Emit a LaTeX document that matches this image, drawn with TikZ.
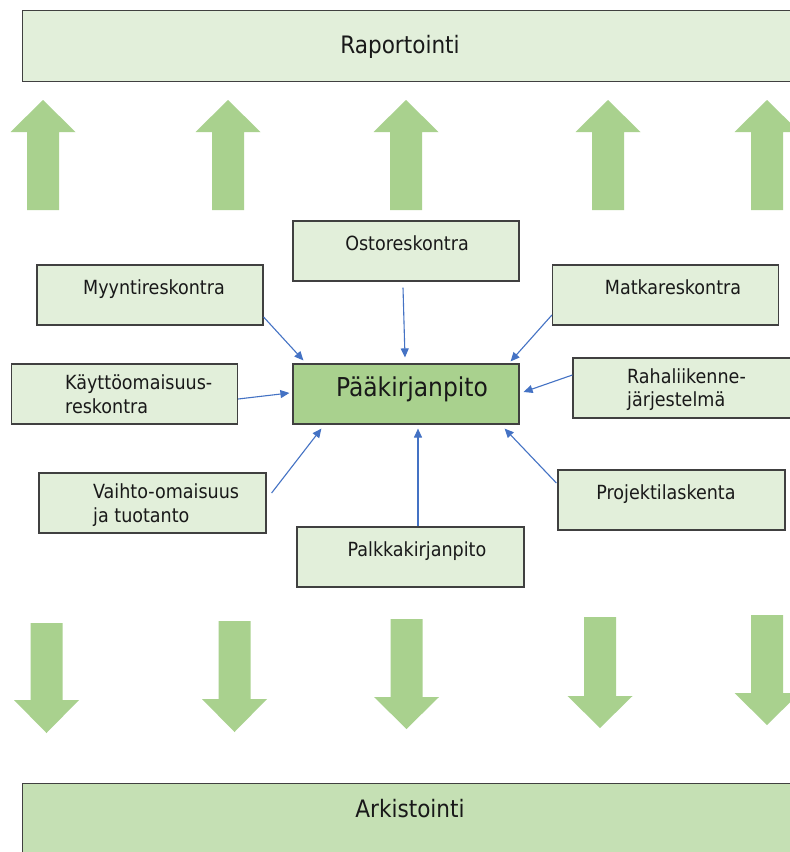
\documentclass[tikz,border=0pt]{standalone}
\usepackage{fontspec}
\setmainfont{DejaVu Sans Condensed}
\usetikzlibrary{arrows.meta}
\definecolor{lightg}{HTML}{E2EFDA}
\definecolor{midg}{HTML}{C5E0B4}
\definecolor{arrg}{HTML}{A9D18E}
\definecolor{connc}{HTML}{4472C4}
\definecolor{edgec}{HTML}{404040}
\tikzset{
  box/.style={draw=edgec, line width=1.2pt, fill=lightg, inner sep=0pt, minimum width=226pt, minimum height=60pt},
  lbl/.style={inner sep=0pt, font=\fontsize{19.5pt}{24pt}\selectfont, text=black!90},
  biglbl/.style={inner sep=0pt, font=\fontsize{24pt}{28pt}\selectfont, text=black!90},
  conn/.style={draw=connc, line width=1.1pt, -{Triangle[length=9pt,width=8pt]}},
  bigarrow/.style={fill=arrg, draw=none}
}
\begin{document}
\begin{tikzpicture}[x=1pt,y=-1pt]
\clip (0,0) rectangle (790,852);
\fill[white] (0,0) rectangle (790,852);

% top and bottom bars
\node[box, fill=lightg, minimum width=770pt, minimum height=71pt, anchor=north west] (rap) at (22,10) {};
\node[biglbl, anchor=base] (rapT) at (400,53) {Raportointi};
\node[box, fill=midg, minimum width=770pt, minimum height=80pt, anchor=north west] (ark) at (22,783) {};
\node[biglbl, anchor=base] (arkT) at (410,817) {Arkistointi};

% up arrows
\foreach \cx in {43,228,406,608,767}{
  \fill[bigarrow] (\cx-16,210) -- (\cx-16,132) -- (\cx-32.5,132) -- (\cx,100) -- (\cx+32.5,132) -- (\cx+16,132) -- (\cx+16,210) -- cycle;
}
% down arrows
\foreach \cx/\top/\hb/\tip in {46.5/623/700/733, 234.5/621/699/732, 406.5/619/697/729, 600/617/696/728, 767/615/693/725}{
  \fill[bigarrow] (\cx-16,\top) -- (\cx+16,\top) -- (\cx+16,\hb) -- (\cx+32.5,\hb) -- (\cx,\tip) -- (\cx-32.5,\hb) -- (\cx-16,\hb) -- cycle;
}

% boxes
\node[box] (osto) at (406,251) {};
\node[lbl, anchor=base] (ostoT) at (407,250) {Ostoreskontra};
\node[box] (myynti) at (150,295) {};
\node[lbl, anchor=base] (myyntiT) at (154,294) {Myyntireskontra};
\node[box] (matka) at (665.5,295) {};
\node[lbl, anchor=base] (matkaT) at (673,294) {Matkareskontra};
\node[box, fill=arrg] (main) at (406,394) {};
\node[inner sep=0pt, font=\fontsize{26pt}{30pt}\selectfont, text=black!90, anchor=base] (mainT) at (412,396) {Pääkirjanpito};
\node[box] (kaytto) at (124.5,394) {};
\node[lbl, anchor=base west] (kayttoT1) at (65,389) {Käyttöomaisuus-};
\node[lbl, anchor=base west] (kayttoT2) at (65,413) {reskontra};
\node[box, minimum width=218pt] (raha) at (682,388) {};
\node[lbl, anchor=base west] (rahaT1) at (627,383) {Rahaliikenne-};
\node[lbl, anchor=base west] (rahaT2) at (627,406) {järjestelmä};
\node[box, minimum width=227pt] (vaihto) at (152.5,503) {};
\node[lbl, anchor=base west] (vaihtoT1) at (93,498) {Vaihto-omaisuus};
\node[lbl, anchor=base west] (vaihtoT2) at (93,522) {ja tuotanto};
\node[box, minimum width=227pt] (palkka) at (410.5,557) {};
\node[lbl, anchor=base] (palkkaT) at (417,556) {Palkkakirjanpito};
\node[box, minimum width=227pt] (proj) at (671.5,500) {};
\node[lbl, anchor=base] (projT) at (666,499) {Projektilaskenta};

% connectors
\draw[conn] ([yshift=-22pt]myynti.east) -- ([xshift=11pt,yshift=3pt]main.north west);
\draw[conn] ([xshift=-3pt,yshift=-6pt]osto.south) -- ([xshift=-1pt,yshift=6pt]main.north);
\draw[conn] ([yshift=-20pt]matka.west) -- ([xshift=-9pt,yshift=2pt]main.north east);
\draw[conn] ([yshift=-5pt]kaytto.east) -- ([xshift=-3pt,yshift=1pt]main.west);
\draw[conn] ([yshift=13pt]raha.west) -- ([xshift=4pt,yshift=2pt]main.east);
\draw[conn] ([xshift=5pt,yshift=10pt]vaihto.east) -- ([xshift=29pt,yshift=-4pt]main.south west);
\draw[conn] ([xshift=7.5pt]palkka.north) -- ([xshift=12pt,yshift=-4pt]main.south);
\draw[conn] ([xshift=-1pt,yshift=17pt]proj.west) -- ([xshift=-15pt,yshift=-4pt]main.south east);
\end{tikzpicture}
\end{document}
